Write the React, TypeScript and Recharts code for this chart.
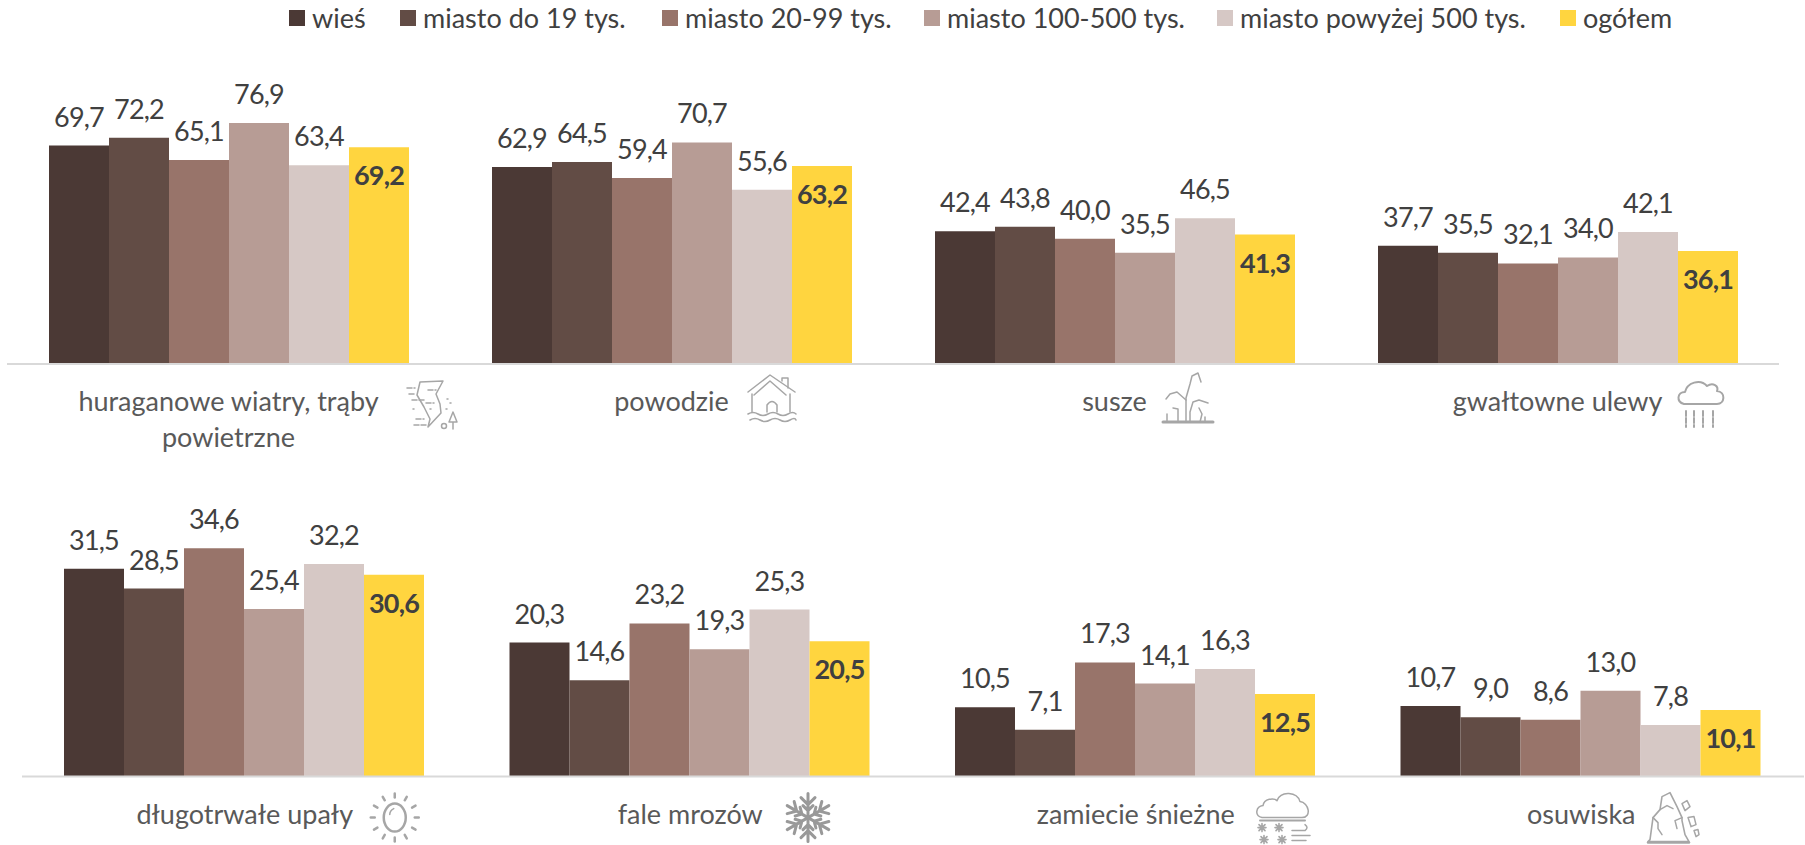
import React from 'react';
import { BarChart, Bar, XAxis, YAxis, LabelList, Legend } from 'recharts';

const categories = [
  'huraganowe wiatry, trąby powietrzne',
  'powodzie',
  'susze',
  'gwałtowne ulewy',
  'długotrwałe upały',
  'fale mrozów',
  'zamiecie śnieżne',
  'osuwiska',
];
const wies = [69.7, 62.9, 42.4, 37.7, 31.5, 20.3, 10.5, 10.7];
const miastoDo19 = [72.2, 64.5, 43.8, 35.5, 28.5, 14.6, 7.1, 9.0];
const miasto20 = [65.1, 59.4, 40.0, 32.1, 34.6, 23.2, 17.3, 8.6];
const miasto100 = [76.9, 70.7, 35.5, 34.0, 25.4, 19.3, 14.1, 13.0];
const miasto500 = [63.4, 55.6, 46.5, 42.1, 32.2, 25.3, 16.3, 7.8];
const ogolem = [69.2, 63.2, 41.3, 36.1, 30.6, 20.5, 12.5, 10.1];

const seriesNames = ['wieś', 'miasto do 19 tys.', 'miasto 20-99 tys.', 'miasto 100-500 tys.', 'miasto powyżej 500 tys.', 'ogółem'];
const seriesColors = ['#4B3935', '#624C45', '#98746A', '#B79C95', '#D6C8C5', '#FFD53F'];
const seriesValues = [wies, miastoDo19, miasto20, miasto100, miasto500, ogolem];

const font = 'Lato, sans-serif';
const legendLeft = [289, 400, 662, 924, 1217, 1560];

const rows = categories.map((name, i) => {
  const row: any = { name };
  seriesNames.forEach((s, k) => (row[s] = seriesValues[k][i]));
  return row;
});
const topRows = rows.slice(0, 4);
const bottomRows = rows.slice(4);

const fmt = (v: number) => v.toFixed(1).replace('.', ',');

const g = { fill: 'none', stroke: '#A6A6A6', strokeWidth: 1.5, strokeLinejoin: 'round', strokeLinecap: 'round' } as const;

const Tornado = () => (
  <g {...g}>
    <path d="M20 7 L43 6 L36 19 L40 29 L41 38 L28 52 L30 44 L24 32 L17 20 Z" />
    <path d="M7 13H15M9 19H16M12 25H24M28 15H36M26 28H34M16 44H24M14 50H26" strokeDasharray="5 2" />
    <path d="M47 24h1M50 28h1M46 34h1M13 34h1M30 34h1" />
    <circle cx="44" cy="51" r="2.5" />
    <path d="M53 37 L49 47 H57 Z M53 47 V54" />
  </g>
);
const House = () => (
  <g {...g}>
    <path d="M6 22 L28 5 L53 22 M12 25 L28 11 L44 25" />
    <path d="M40 11 V8 H46 V18" />
    <path d="M10 24 V42 M48 24 V42" />
    <path d="M25 42 V35 Q30 28 35 35 V42" />
    <path d="M6 44 q5 -3 10 0 t10 0 t10 0 t10 0 t8 0 M8 50 q5 -3 10 0 t10 0 t10 0 t10 0 t6 0" />
  </g>
);
const Plant = () => (
  <g {...g}>
    <path d="M8 52 H58" strokeWidth={3} />
    <path d="M31 52 V28 L35 14 L37 6 L43 3 L46 12" />
    <path d="M31 30 L22 22 L15 24 L11 29" />
    <path d="M35 52 V42 L38 32 L44 30 L53 33" />
    <path d="M23 52 V39 L18 38 M12 52 V44 M45 52 L47 44 L44 38 M50 52 V47" />
  </g>
);
const CloudRain = () => (
  <g {...g} strokeWidth={2}>
    <path d="M14 29 C6 27 7 17 15 17 C17 8 30 3 37 11 C43 7 49 11 47 16 C56 17 55 29 47 29 Z" />
    <path d="M16 36 V52 M24 36 V52 M33 36 V52 M43 36 V52" strokeDasharray="5 2" />
  </g>
);
const Sun = () => (
  <g {...g}>
    <ellipse cx="25" cy="33" rx="11" ry="14" strokeWidth={2.5} />
    <path d="M20 30 Q20 26 24 24" />
    {[0, 30, 60, 90, 120, 150, 180, 210, 240, 270, 300, 330].map((a) => (
      <path key={a} d="M25 13 V9" strokeWidth={2.5} transform={`rotate(${a} 25 33)`} />
    ))}
  </g>
);
const Snowflake = () => (
  <g {...g} strokeWidth={3} stroke="#999999">
    {[0, 60, 120, 180, 240, 300].map((a) => (
      <path key={a} d="M28 33 V9 M21 13 L28 20 L35 13 M23 21 L28 26 L33 21" transform={`rotate(${a} 28 33)`} />
    ))}
  </g>
);
const CloudSnow = () => (
  <g {...g}>
    <path d="M12 33 C4 31 6 22 13 21 C14 14 24 13 27 16 C31 6 47 7 50 17 C59 18 62 33 52 33 Z" />
    <path d="M10 36 H55" strokeWidth={2} />
    <g strokeWidth={1.6}>
      {[[12, 43], [29, 43], [14, 55], [32, 55]].map(([x, y], i) => (
        <path key={i} d={`M${x - 4} ${y}H${x + 4}M${x} ${y - 4}V${y + 4}M${x - 3} ${y - 3}L${x + 3} ${y + 3}M${x + 3} ${y - 3}L${x - 3} ${y + 3}`} />
      ))}
    </g>
    <path d="M42 46 H55 Q59 43 55 40 M42 51 H60 M42 56 H56" />
  </g>
);
const Rock = () => (
  <g {...g}>
    <path d="M3 57 H44 L40 50 L37 36 V33 L32 22 L25 8 L17 12 L15 25 L8 33 L5 55 Z" strokeWidth={1.6} />
    <path d="M3 58 H44" strokeWidth={2.5} />
    <path d="M15 25 L22 21 L28 24 M8 33 L13 38 L13 44 L17 50 M37 33 L30 36 L32 44" />
    <path d="M37 19 L42 16 L45 22 L40 26 Z M43 33 L49 32 L51 40 L46 42 Z M49 46 L53 45 L54 50 L51 52 Z" />
  </g>
);

const icons = [Tornado, House, Plant, CloudRain, Sun, Snowflake, CloudSnow, Rock];
const iconDx = [171.5, 70.5, 40.5, 112.5, 125, 89.75, 114.25, 63.75];
const iconDy = [11, 6, 6, 11, 8, 8, 8, 8];
const labelLines = [['huraganowe wiatry, trąby', 'powietrzne']];

const makeTick = (offset: number) => (props: any) => {
  const { x, y, payload } = props;
  const idx = payload.index + offset;
  const Icon = icons[idx];
  const lines = labelLines[idx] || [payload.value];
  return (
    <g>
      <text x={x} y={y + 47} textAnchor="middle" fontFamily={font} fontSize={27} fill="#595959">
        {lines.map((l: string, i: number) => (
          <tspan key={i} x={x} dy={i === 0 ? 0 : 36}>{l}</tspan>
        ))}
      </text>
      <g transform={`translate(${x + iconDx[idx]} ${y + iconDy[idx]})`}>
        <Icon />
      </g>
    </g>
  );
};

const LegendBox = () => (
  <div style={{ position: 'relative', width: 1805, height: 40 }}>
    {seriesNames.map((s, i) => (
      <div key={s} style={{ position: 'absolute', left: legendLeft[i], top: 3, display: 'flex', alignItems: 'center', whiteSpace: 'nowrap', fontFamily: font, fontSize: 27, lineHeight: '30px', color: '#404040' }}>
        <span style={{ display: 'inline-block', width: 16, height: 16, background: seriesColors[i], marginRight: 7 }} />
        {s}
      </div>
    ))}
  </div>
);

const Row = ({ data, offset, top, height, left, right, chartTop, axisHeight, max, legend }: any) => (
  <div style={{ position: 'absolute', left: 0, top }}>
    <BarChart width={1805} height={height} data={data} barGap={0} barCategoryGap={42} margin={{ top: chartTop, left, right, bottom: 0 }}>
      <XAxis dataKey="name" interval={0} tickLine={false} tickSize={0} tickMargin={0} height={axisHeight} axisLine={{ stroke: '#D9D9D9', strokeWidth: 2 }} tick={makeTick(offset)} />
      <YAxis hide domain={[0, max]} />
      {legend && <Legend verticalAlign="top" content={<LegendBox />} wrapperStyle={{ left: 0, top: 0, width: 1805, height: 40 }} />}
      {seriesNames.map((s, i) => (
        <Bar key={s} dataKey={s} fill={seriesColors[i]} isAnimationActive={false}>
          <LabelList
            dataKey={s}
            position={i === 5 ? 'insideTop' : 'top'}
            offset={19}
            formatter={fmt}
            fontFamily={font}
            fontSize={27}
            letterSpacing={-0.8}
            fontWeight={i === 5 ? 700 : 400}
            fill="#404040"
          />
        </Bar>
      ))}
    </BarChart>
  </div>
);

export default function App() {
  return (
    <div style={{ position: 'absolute', left: 0, top: 0, width: 1805, height: 845, overflow: 'hidden', background: '#fff' }}>
      <Row data={topRows} offset={0} top={0} height={460} left={7} right={26} chartTop={42} axisHeight={96} max={90} legend />
      <Row data={bottomRows} offset={4} top={460} height={385} left={22} right={1} chartTop={52.6} axisHeight={68.4} max={40} />
    </div>
  );
}
